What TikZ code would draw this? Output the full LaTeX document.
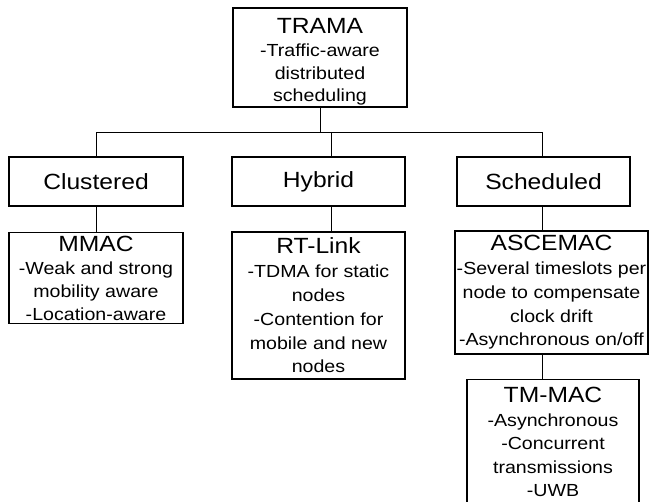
\documentclass[tikz,border=0pt]{standalone}
\usepackage{fontspec}
\setmainfont{Liberation Sans}[FakeStretch=1.12]
\newcommand\boxttl[1]{{\fontsize{22}{23}\selectfont #1}}
\begin{document}
\begin{tikzpicture}[x=1pt,y=-1pt,
  box/.style={draw,line width=1.1pt,align=center,inner sep=0pt,font=\fontsize{17.5}{23.8}\selectfont},
  catbox/.style={draw,line width=1.1pt,minimum width=174pt,minimum height=49pt,inner sep=0pt,font=\fontsize{22}{24}\selectfont},
  plaintext/.style={align=center,inner sep=0pt,font=\fontsize{17.5}{23.5}\selectfont},
  link/.style={line width=0.9pt}]
\useasboundingbox (0,0) rectangle (649,502);

\node[box,minimum width=174pt,minimum height=99pt,font=\fontsize{17.5}{22.8}\selectfont] (trama) at (320,57.5)
  {\rule{0pt}{24pt}\boxttl{TRAMA}\\-Traffic-aware\\distributed\\scheduling};

\node[catbox] (clu) at (96,181.5) {Clustered};
\node[catbox,minimum width=173pt] (hyb) at (318.5,181.5) {Hybrid};
\node[catbox,minimum width=173pt] (sch) at (543.5,181.5) {Scheduled};

\node[box,minimum width=174pt,minimum height=91pt,font=\fontsize{17.5}{23}\selectfont] (mmac) at (96,278)
  {\boxttl{MMAC}\\-Weak and strong\\mobility aware\\-Location-aware};
\node[box,minimum width=173pt,minimum height=147pt] (rt) at (318.5,305.5)
  {\boxttl{RT-Link}\\-TDMA for static\\nodes\\-Contention for\\mobile and new\\nodes};
\node[box,minimum width=193pt,minimum height=123pt] (asc) at (551.5,292.5)
  {\boxttl{ASCEMAC}\\-Several timeslots per\\node to compensate\\clock drift\\-Asynchronous on/off};

\node[draw,line width=1.1pt,minimum width=172pt,minimum height=150pt,anchor=north,inner sep=0pt] (tmbox) at (553,379) {};
\node[plaintext,anchor=north] (tm) at (553,387)
  {\boxttl{TM-MAC}\\-Asynchronous\\-Concurrent\\transmissions\\-UWB};

\coordinate (busy) at (0,132);
\coordinate (hx) at (331,0);
\coordinate (sx) at (542,0);

\draw[link] (trama.south) -- (trama.south |- busy);
\draw[link] (clu.north) -- (clu.north |- busy) -- (sx |- busy) -- (sch.north -| sx);
\draw[link] (hyb.north -| hx) -- (hx |- busy);
\draw[link] (clu) -- (mmac);
\draw[link] (hyb.south -| hx) -- (rt.north -| hx);
\draw[link] (sch.south -| sx) -- (asc.north -| sx);
\draw[link] (asc.south -| sx) -- (tmbox.north -| sx);
\end{tikzpicture}
\end{document}
